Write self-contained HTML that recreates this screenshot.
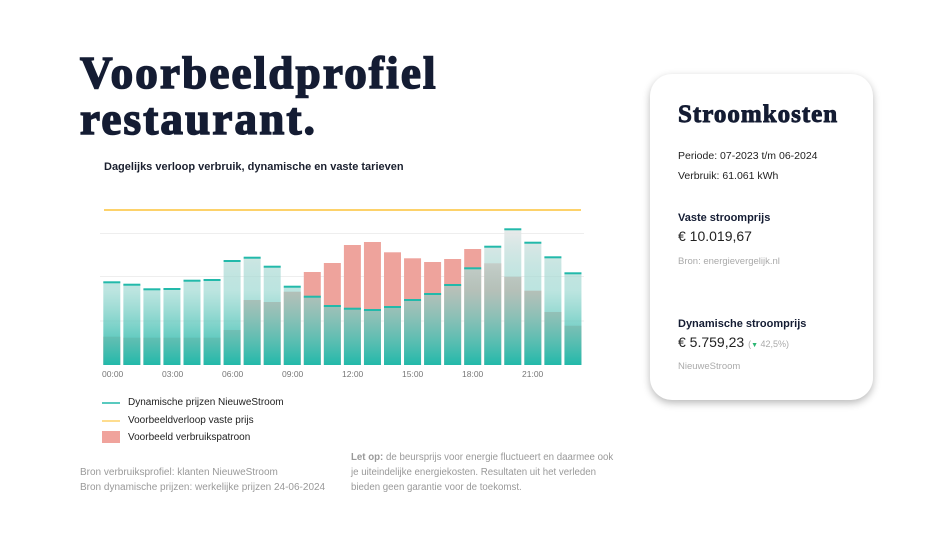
<!DOCTYPE html>
<html><head><meta charset="utf-8"><style>
body{margin:0;width:945px;height:540px;background:#fff;position:relative;overflow:hidden;font-family:"Liberation Sans",sans-serif;}
.t{position:absolute;white-space:nowrap;}
h1{position:absolute;left:80px;top:50px;margin:0;font-family:"Liberation Serif",serif;font-weight:900;font-size:45px;line-height:46px;color:#141c33;letter-spacing:2.2px;-webkit-text-stroke:1.6px #141c33;}
.card{position:absolute;left:650px;top:74px;width:223px;height:326px;border-radius:22px;background:#fff;box-shadow:0 3px 8px rgba(0,0,0,0.28);}
</style></head><body>
<h1>Voorbeeldprofiel<br>restaurant.</h1>
<div class="t" style="left:104px;top:161px;font-size:11px;font-weight:bold;color:#1a1f2e;">Dagelijks verloop verbruik, dynamische en vaste tarieven</div>
<svg style="position:absolute;left:0;top:0" width="945" height="540">
<defs><linearGradient id="g" gradientUnits="userSpaceOnUse" x1="0" y1="230" x2="0" y2="365">
<stop offset="0" stop-color="#e6e8e8" stop-opacity="0.92"/>
<stop offset="0.45" stop-color="#8fd3cb" stop-opacity="0.6"/>
<stop offset="1" stop-color="#22b9aa" stop-opacity="1"/></linearGradient></defs>
<line x1="100" y1="233.5" x2="584" y2="233.5" stroke="#eee" stroke-width="1"/>
<line x1="100" y1="276.5" x2="584" y2="276.5" stroke="#eee" stroke-width="1"/>
<line x1="100" y1="321" x2="584" y2="321" stroke="#eee" stroke-width="1"/>
<line x1="104" y1="210" x2="581" y2="210" stroke="#fdd26a" stroke-width="2"/>
<g id="bars"></g>
<g font-size="8.5" fill="#777" font-family="Liberation Sans,sans-serif">
<text x="102" y="377">00:00</text><text x="162" y="377">03:00</text><text x="222" y="377">06:00</text><text x="282" y="377">09:00</text><text x="342" y="377">12:00</text><text x="402" y="377">15:00</text><text x="462" y="377">18:00</text><text x="522" y="377">21:00</text>
</g>
<line x1="102" y1="403" x2="120" y2="403" stroke="#22b9aa" stroke-width="1.5"/>
<line x1="102" y1="421" x2="120" y2="421" stroke="#fdd26a" stroke-width="1.5"/>
<rect x="102" y="431" width="18" height="12" fill="#f0a39c"/>
</svg>
<div class="t" style="left:128px;top:397px;font-size:10px;color:#222;">Dynamische prijzen NieuweStroom</div>
<div class="t" style="left:128px;top:415px;font-size:10px;color:#222;">Voorbeeldverloop vaste prijs</div>
<div class="t" style="left:128px;top:432px;font-size:10px;color:#222;">Voorbeeld verbruikspatroon</div>
<div class="t" style="left:80px;top:465px;font-size:10px;line-height:15px;color:#999;">Bron verbruiksprofiel: klanten NieuweStroom<br>Bron dynamische prijzen: werkelijke prijzen 24-06-2024</div>
<div class="t" style="left:351px;top:450px;font-size:9.7px;line-height:15px;color:#999;"><b>Let op:</b> de beursprijs voor energie fluctueert en daarmee ook<br>je uiteindelijke energiekosten. Resultaten uit het verleden<br>bieden geen garantie voor de toekomst.</div>
<div class="card"></div>
<div class="t" style="left:678px;top:101px;font-family:'Liberation Serif',serif;font-weight:900;font-size:25px;letter-spacing:1px;-webkit-text-stroke:0.9px #141c33;color:#141c33;">Stroomkosten</div>
<div class="t" style="left:678px;top:150px;font-size:10.5px;color:#222;">Periode: 07-2023 t/m 06-2024</div>
<div class="t" style="left:678px;top:170px;font-size:10.5px;color:#222;">Verbruik: 61.061 kWh</div>
<div class="t" style="left:678px;top:212px;font-size:11px;font-weight:bold;color:#141c33;">Vaste stroomprijs</div>
<div class="t" style="left:678px;top:228px;font-size:14px;color:#222;">€ 10.019,67</div>
<div class="t" style="left:678px;top:256px;font-size:9.5px;color:#aaa;">Bron: energievergelijk.nl</div>
<div class="t" style="left:678px;top:318px;font-size:11px;font-weight:bold;color:#141c33;">Dynamische stroomprijs</div>
<div class="t" style="left:678px;top:334px;font-size:14px;color:#222;">€ 5.759,23 <span style="font-size:9px;color:#aaa;">(<span style="color:#2bb673;font-size:7px;">▼</span> 42,5%)</span></div>
<div class="t" style="left:678px;top:361px;font-size:9.5px;color:#aaa;">NieuweStroom</div>
<script>
var teal=[282.3,284.7,289.3,289,280.7,280,261,257.7,266.7,286.7,296.7,306,308.7,310,307,300,294,285,268.3,246.7,229.3,242.7,257.3,273.3];
var pink=[336.7,337.7,337.7,337.7,337.7,337.7,330,300,302,291.7,272,263,245,242,252.3,258.3,262,259,249,263.3,276.7,290.7,312,325.7];
var s='',base=365;
for(var i=0;i<24;i++){var x=103.3+i*20.05,w=17;
s+='<rect x="'+x+'" y="'+pink[i]+'" width="'+w+'" height="'+(base-pink[i])+'" fill="#eea39c"/>';
s+='<rect x="'+x+'" y="'+teal[i]+'" width="'+w+'" height="'+(base-teal[i])+'" fill="url(#g)"/>';
s+='<rect x="'+x+'" y="'+(teal[i]-1)+'" width="'+w+'" height="2" fill="#22b9aa"/>';}
document.getElementById('bars').innerHTML=s;
</script>
</body></html>
